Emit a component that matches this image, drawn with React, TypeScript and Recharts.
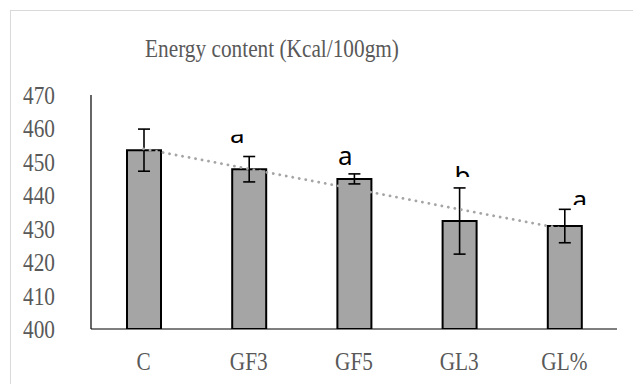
import React from "react";
import {
  ComposedChart,
  Bar,
  Line,
  XAxis,
  YAxis,
  ErrorBar,
  LabelList,
} from "recharts";

const categories = ["C", "GF3", "GF5", "GL3", "GL%"];
const energy = [453.5, 447.8, 444.9, 432.3, 430.8];
const errors = [6.3, 3.8, 1.5, 9.9, 5.0];
const trend = [453.9, 447.9, 441.9, 435.8, 429.9];
const letters = ["", "a", "a", "b", "a"];
const yTicks = [400, 410, 420, 430, 440, 450, 460, 470];

const data = categories.map((c, i) => ({
  name: c,
  value: energy[i],
  err: errors[i],
  trend: trend[i],
  letter: letters[i],
}));

// label placement relative to bar top (dx, baseline offset) and visible clip band
const LABEL_LAYOUT = [
  { dx: 0, dy: 0, clipTop: -30, clipBottom: 10 },
  { dx: -12, dy: -26, clipTop: -9, clipBottom: 5 },
  { dx: -9, dy: -14, clipTop: -30, clipBottom: 10 },
  { dx: 3, dy: -36, clipTop: -22, clipBottom: -8 },
  { dx: 15, dy: -17, clipTop: -16, clipBottom: -4 },
];

const TEXT_GREY = "#595959";
const SERIF = "'Liberation Serif', 'Times New Roman', serif";
const FS = 21.3;
const STRETCH = 1.18;

const YTick = (props: any) => {
  const { x, y, payload } = props;
  return (
    <g transform={`translate(${x},${y}) scale(1,${STRETCH})`}>
      <text x={0} y={0} dy="0.355em" textAnchor="end" fill={TEXT_GREY} fontSize={FS} fontFamily={SERIF}>
        {payload.value}
      </text>
    </g>
  );
};

const XTick = (props: any) => {
  const { x, y, payload } = props;
  return (
    <g transform={`translate(${x},${y}) scale(1,${STRETCH})`}>
      <text x={0} y={0} dy="0.71em" textAnchor="middle" fill={TEXT_GREY} fontSize={FS} fontFamily={SERIF}>
        {payload.value}
      </text>
    </g>
  );
};

const renderLetter = (props: any) => {
  const { x, y, width, index, value } = props;
  if (!value) return null;
  const l = LABEL_LAYOUT[index];
  const cx = Number(x) + Number(width) / 2 + l.dx;
  const by = Number(y) + l.dy;
  const id = `lbl-clip-${index}`;
  return (
    <g>
      <defs>
        <clipPath id={id}>
          <rect x={cx - 20} y={by + l.clipTop} width={40} height={l.clipBottom - l.clipTop} />
        </clipPath>
      </defs>
      <text
        x={cx}
        y={by}
        textAnchor="middle"
        clipPath={`url(#${id})`}
        fill="#000"
        fontSize={26}
        fontFamily="'Noto Sans', 'Open Sans', sans-serif"
      >
        {value}
      </text>
    </g>
  );
};

export default function App() {
  return (
    <div style={{ position: "absolute", left: 0, top: 0, width: 633, height: 384, background: "#fff", overflow: "hidden" }}>
      <div
        style={{
          position: "absolute",
          left: 10,
          top: 10,
          width: 700,
          height: 500,
          border: "1.5px solid #d9d9d9",
          boxSizing: "border-box",
        }}
      />
      <div
        style={{
          position: "absolute",
          left: 72,
          width: 400,
          top: 35,
          textAlign: "center",
          fontFamily: SERIF,
          fontSize: FS,
          color: TEXT_GREY,
          lineHeight: "28px",
          whiteSpace: "nowrap",
          transform: `scaleY(${STRETCH})`,
        }}
      >
        Energy content (Kcal/100gm)
      </div>
      <div style={{ position: "absolute", left: 0, top: 0 }}>
        <ComposedChart
          width={633}
          height={384}
          data={data}
          margin={{ top: 95, right: 16, left: 0, bottom: 26 }}
          barSize={34}
        >
          <XAxis
            dataKey="name"
            axisLine={{ stroke: "#000", strokeWidth: 1.2 }}
            tickLine={false}
            tickMargin={17}
            height={29}
            tick={<XTick />}
          />
          <YAxis
            domain={[400, 470]}
            ticks={yTicks}
            interval={0}
            width={91}
            axisLine={{ stroke: "#000", strokeWidth: 1.2 }}
            tickLine={false}
            tickMargin={30}
            tick={<YTick />}
            allowDataOverflow
          />
          <Bar dataKey="value" fill="#a5a5a5" stroke="#000" strokeWidth={2} isAnimationActive={false}>
            <ErrorBar dataKey="err" width={6} stroke="#000" strokeWidth={1.6} direction="y" />
            <LabelList dataKey="letter" content={renderLetter} />
          </Bar>
          <Line
            dataKey="trend"
            stroke="#a5a5a5"
            strokeWidth={2.8}
            strokeDasharray="0.1 6.5"
            strokeLinecap="round"
            dot={false}
            activeDot={false}
            isAnimationActive={false}
          />
        </ComposedChart>
      </div>
    </div>
  );
}
